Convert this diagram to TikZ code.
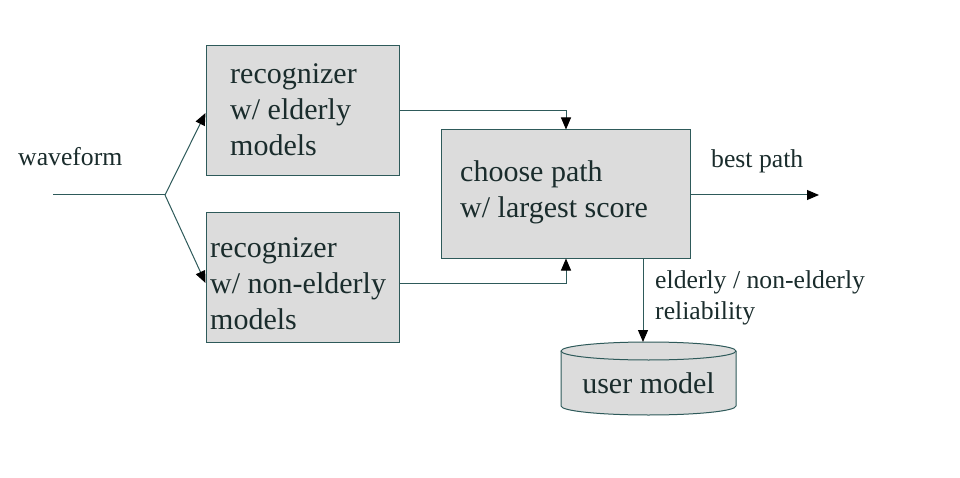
\documentclass[tikz,border=0pt]{standalone}
\usepackage{fontspec}
\setmainfont{Liberation Serif}
\usetikzlibrary{arrows.meta}
\definecolor{linec}{HTML}{2E5A5A}
\definecolor{textc}{HTML}{1A2C2C}
\definecolor{boxfill}{HTML}{DCDCDC}
\begin{document}
\begin{tikzpicture}[x=1pt,y=-1pt,
  box/.style={draw=linec, line width=1pt, fill=boxfill, minimum width=#1, inner sep=0pt},
  boxtext/.style={text=textc, font=\fontsize{30}{36}\selectfont, align=left, inner sep=0pt, anchor=west},
  lbl/.style={text=textc, font=\fontsize{25.7}{31}\selectfont, inner sep=0pt, anchor=base west},
  conn/.style={draw=linec, line width=1pt},
  arr/.style={conn, -{Triangle[length=12pt,width=10pt,color=black]}}]
\useasboundingbox (0,0) rectangle (960,478);
\fill[white] (0,0) rectangle (960,478);
% boxes
\node[box=193pt, minimum height=130pt] (b1) at (302.5,111) {};
\node[box=193pt, minimum height=129pt] (b2) at (302.5,277.5) {};
\node[box=249pt, minimum height=128pt] (b3) at (565.5,194) {};
\node[boxtext] (t1) at (230,110) {recognizer\\w/ elderly\\models};
\node[boxtext] (t2) at (210,284) {recognizer\\w/ non-elderly\\models};
\node[boxtext] (t3) at (460,192) {choose path\\w/ largest score};
% cylinder
\path[fill=boxfill] (561,351) -- (561,406) arc[start angle=180,end angle=0,x radius=87.5,y radius=9] -- (736,351) arc[start angle=0,end angle=-180,x radius=87.5,y radius=9] -- cycle;
\draw[conn] (561,351) -- (561,406) arc[start angle=180,end angle=0,x radius=87.5,y radius=9] -- (736,351);
\draw[conn] (648.5,351) ellipse[x radius=87.5,y radius=9];
\coordinate (umtop) at (643,342);
\node[text=textc, font=\fontsize{30}{36}\selectfont, inner sep=0pt] (um) at (648.5,383) {user model};
% labels
\node[lbl] (wf) at (18,166) {waveform};
\node[lbl] (bp) at (711,168) {best path};
\node[lbl] (r1) at (655,288) {elderly / non-elderly};
\node[lbl] (r2) at (655,319) {reliability};
% connectors
\coordinate (ws) at (53,195);
\coordinate (j) at (165,195);
\coordinate (bpend) at (819,195);
\draw[conn] (ws) -- (j);
\draw[arr] (j) -- (b1.west |- 0,113);
\draw[arr] (j) -- (b2.west |- 0,283);
\draw[arr] (b1.east |- 0,111) -| (b3.north -| 566,0);
\draw[arr] (b2.east |- 0,283) -| (b3.south -| 566,0);
\draw[arr] (b3.east |- 0,195) -- (bpend);
\draw[arr] (b3.south -| 643,0) -- (umtop);
\end{tikzpicture}
\end{document}
